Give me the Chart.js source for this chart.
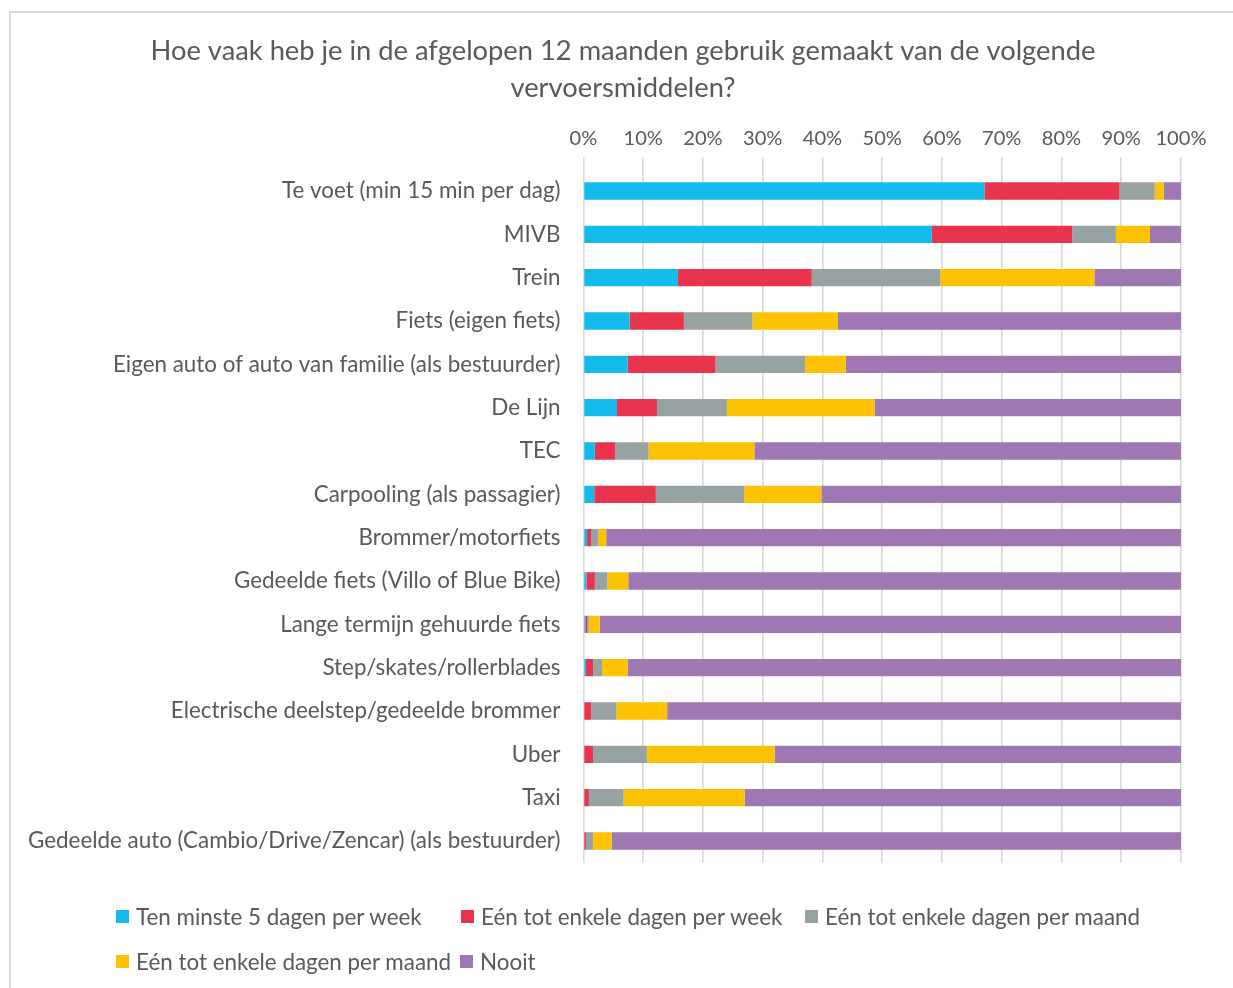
<!DOCTYPE html>
<html><head><meta charset="utf-8">
<script src="https://cdn.jsdelivr.net/npm/chart.js@4"></script>
<style>
html,body{margin:0;padding:0;background:#fff;}
#wrap{position:relative;width:1233px;height:988px;overflow:hidden;background:#fff;}
#frame{position:absolute;left:9px;top:11px;width:1300px;height:1100px;border-top:2px solid #d9d9d9;border-left:2px solid #d9d9d9;}
canvas{position:absolute;left:0;top:0;}
#legend{position:absolute;left:0;top:0;width:1233px;height:988px;pointer-events:none;}
.li{position:absolute;display:flex;align-items:center;white-space:nowrap;color:#595959;height:26px;}
.sw{width:13px;height:13px;margin-right:7px;flex:none;}
</style></head>
<body><div id="wrap"><div id="frame"></div><canvas id="c" width="1233" height="988" style="width:1233px;height:988px"></canvas><div id="legend"></div></div>
<script>
const titleLines = ['Hoe vaak heb je in de afgelopen 12 maanden gebruik gemaakt van de volgende', 'vervoersmiddelen?'];
const categories = [
  'Te voet (min 15 min per dag)',
  'MIVB',
  'Trein',
  'Fiets (eigen fiets)',
  'Eigen auto of auto van familie (als bestuurder)',
  'De Lijn',
  'TEC',
  'Carpooling (als passagier)',
  'Brommer/motorfiets',
  'Gedeelde fiets (Villo of Blue Bike)',
  'Lange termijn gehuurde fiets',
  'Step/skates/rollerblades',
  'Electrische deelstep/gedeelde brommer',
  'Uber',
  'Taxi',
  'Gedeelde auto (Cambio/Drive/Zencar) (als bestuurder)'
];
const seriesNames = ['Ten minste 5 dagen per week', 'Eén tot enkele dagen per week', 'Eén tot enkele dagen per maand', 'Eén tot enkele dagen per maand', 'Nooit'];
const tenMinste5 = [67.1, 58.3, 15.8, 7.7, 7.4, 5.6, 1.9, 1.8, 0.6, 0.5, 0.3, 0.4, 0.0, 0.0, 0.0, 0.0];
const perWeek    = [22.6, 23.5, 22.4, 9.1, 14.7, 6.7, 3.4, 10.3, 0.7, 1.4, 0.3, 1.2, 1.3, 1.6, 0.9, 0.4];
const perMaandA  = [5.9, 7.3, 21.5, 11.5, 15.0, 11.7, 5.6, 14.8, 1.2, 2.1, 0.3, 1.5, 4.2, 9.0, 5.8, 1.2];
const perMaandB  = [1.5, 5.7, 25.8, 14.3, 6.8, 24.7, 17.7, 12.9, 1.3, 3.5, 1.8, 4.3, 8.5, 21.4, 20.3, 3.1];
const nooit      = [2.9, 5.2, 14.5, 57.4, 56.1, 51.3, 71.4, 60.2, 96.2, 92.5, 97.3, 92.6, 86.0, 68.0, 73.0, 95.3];
const xTickLabels = ['0%', '10%', '20%', '30%', '40%', '50%', '60%', '70%', '80%', '90%', '100%'];
const colors = ['#15BAEC', '#E8344D', '#96A3A2', '#FDC300', '#9E77B3'];

const FAMILY = 'Lato, "Open Sans", sans-serif';
const TEXT = '#595959';
function fitSize(text, target) {
  const ctx = document.createElement('canvas').getContext('2d');
  ctx.font = '100px ' + FAMILY;
  return Math.round(100 * target / ctx.measureText(text).width * 10) / 10;
}
const catSize = fitSize(categories[15], 533);
const titleSize = fitSize(titleLines[0], 944);
const legendSize = fitSize(seriesNames[0], 287);
const tickSize = fitSize('100%', 51);

const values = [tenMinste5, perWeek, perMaandA, perMaandB, nooit];
const datasets = values.map((d, i) => ({
  label: seriesNames[i],
  data: d,
  backgroundColor: colors[i],
  borderWidth: 0,
  categoryPercentage: 1,
  barPercentage: 0.4
}));

// centre the title over the same box as in the reference (not over the whole canvas)
const titleBoxPlugin = {
  id: 'titleBox',
  afterLayout(chart) {
    const t = chart.titleBlock;
    if (t) { t.left = 65; t.right = chart.chartArea.right; }
  }
};

new Chart(document.getElementById('c'), {
  type: 'bar',
  data: { labels: categories, datasets },
  plugins: [titleBoxPlugin],
  options: {
    responsive: false,
    animation: false,
    indexAxis: 'y',
    layout: { padding: { left: 14, right: 52, top: 20, bottom: 125.3 } },
    plugins: {
      legend: { display: false },
      tooltip: { enabled: false },
      title: {
        display: true, text: titleLines, color: TEXT,
        font: { family: FAMILY, size: titleSize, weight: 'normal', lineHeight: 37 / titleSize },
        padding: { top: 12.5, bottom: 17.8 }
      }
    },
    scales: {
      x: {
        position: 'top', stacked: true, min: 0, max: 100,
        ticks: { stepSize: 10, autoSkip: false, maxRotation: 0, padding: 7, color: TEXT,
          font: { family: FAMILY, size: tickSize },
          callback: (v, i) => xTickLabels[i] },
        grid: { color: '#d9d9d9', lineWidth: 1.6, tickLength: 12, drawTicks: true },
        border: { display: false },
        afterFit(s) { s.paddingLeft = 0; s.paddingRight = 0; s.height = 45; }
      },
      y: {
        stacked: true,
        grid: { display: false, drawTicks: false, tickLength: 0 },
        border: { display: false },
        ticks: { color: TEXT, padding: 23, font: { family: FAMILY, size: catSize } },
        afterFit(s) { s.width = 569.5; }
      }
    }
  }
});

const legendPos = [[116, 916], [461, 916], [805, 916], [116, 961], [460, 961]];
const lg = document.getElementById('legend');
seriesNames.forEach((name, i) => {
  const d = document.createElement('div');
  d.className = 'li';
  d.style.left = legendPos[i][0] + 'px';
  d.style.top = (legendPos[i][1] - 13) + 'px';
  d.style.font = legendSize + 'px ' + FAMILY;
  const sw = document.createElement('span');
  sw.className = 'sw';
  sw.style.background = colors[i];
  const t = document.createElement('span');
  t.textContent = name;
  d.appendChild(sw); d.appendChild(t);
  lg.appendChild(d);
});
</script>
</body></html>
